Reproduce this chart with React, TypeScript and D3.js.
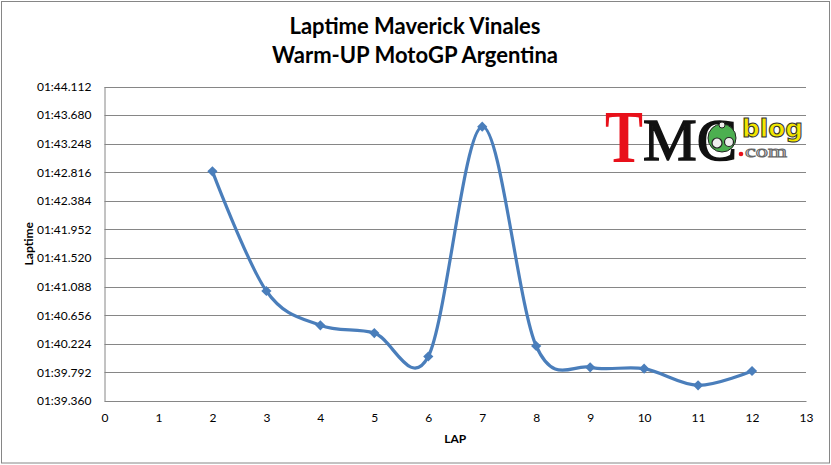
import { useEffect, useRef } from "react";
import * as d3 from "d3";

// lap number and lap time
const laps = [2, 3, 4, 5, 6, 7, 8, 9, 10, 11, 12];
const lapTimes = [
  "01:42.830",
  "01:41.022",
  "01:40.504",
  "01:40.387",
  "01:40.032",
  "01:43.505",
  "01:40.191",
  "01:39.869",
  "01:39.848",
  "01:39.597",
  "01:39.813",
];

const xTicks = [0, 1, 2, 3, 4, 5, 6, 7, 8, 9, 10, 11, 12, 13];
const yTickLabels = [
  "01:39.360",
  "01:39.792",
  "01:40.224",
  "01:40.656",
  "01:41.088",
  "01:41.520",
  "01:41.952",
  "01:42.384",
  "01:42.816",
  "01:43.248",
  "01:43.680",
  "01:44.112",
];

const toSeconds = (s: string) => {
  const [m, sec] = s.split(":");
  return +m * 60 + +sec;
};

const W = 831;
const H = 465;
const plot = { left: 104.5, right: 806, top: 86.5, bottom: 401 };
const blue = "#4a7ebb";
const grey = "#868686";
const font = "Lato, 'Open Sans', sans-serif";

export default function App() {
  const svgRef = useRef<SVGSVGElement>(null);

  useEffect(() => {
    document.body.style.margin = "0";
    const svg = d3.select(svgRef.current);
    svg.selectAll("*").remove();

    const yVals = yTickLabels.map(toSeconds);
    const x = d3.scaleLinear().domain([0, 13]).range([plot.left, plot.right]);
    const y = d3
      .scaleLinear()
      .domain([yVals[0], yVals[yVals.length - 1]])
      .range([plot.bottom, plot.top]);

    svg.append("rect").attr("width", W).attr("height", H).attr("fill", "white");
    svg
      .append("rect")
      .attr("x", 1.5)
      .attr("y", 1.5)
      .attr("width", W - 3)
      .attr("height", H - 3.5)
      .attr("fill", "none")
      .attr("stroke", grey);

    // gridlines
    svg
      .append("g")
      .selectAll("line")
      .data(yVals)
      .join("line")
      .attr("x1", plot.left)
      .attr("x2", plot.right)
      .attr("y1", (d) => Math.round(y(d)) + 0.5)
      .attr("y2", (d) => Math.round(y(d)) + 0.5)
      .attr("stroke", grey);

    // y axis
    const yAxis = svg
      .append("g")
      .attr("transform", `translate(${plot.left},0)`)
      .call(
        d3
          .axisLeft(y)
          .tickValues(yVals)
          .tickSize(0)
          .tickPadding(13)
          .tickFormat((_, i) => yTickLabels[i])
      );
    yAxis.select(".domain").attr("stroke", grey);
    yAxis
      .selectAll("text")
      .attr("font-family", font)
      .attr("font-size", 12)
      .attr("fill", "#000");

    // x axis
    const xAxis = svg
      .append("g")
      .attr("transform", `translate(0,${plot.bottom})`)
      .call(d3.axisBottom(x).tickValues(xTicks).tickSize(0).tickPadding(12));
    xAxis.select(".domain").attr("stroke", grey);
    xAxis
      .selectAll("text")
      .attr("font-family", font)
      .attr("font-size", 12)
      .attr("fill", "#000");

    // titles
    const title = svg
      .append("text")
      .attr("text-anchor", "middle")
      .attr("font-family", font)
      .attr("font-weight", "bold")
      .attr("font-size", 22);
    title.append("tspan").attr("x", 415).attr("y", 34).text("Laptime Maverick Vinales");
    title.append("tspan").attr("x", 415).attr("y", 63).text("Warm-UP MotoGP Argentina");

    svg
      .append("text")
      .attr("x", (plot.left + plot.right) / 2)
      .attr("y", 443)
      .attr("text-anchor", "middle")
      .attr("font-family", font)
      .attr("font-weight", "bold")
      .attr("font-size", 12)
      .text("LAP");

    svg
      .append("text")
      .attr("transform", `translate(33,${(plot.top + plot.bottom) / 2}) rotate(-90)`)
      .attr("text-anchor", "middle")
      .attr("font-family", font)
      .attr("font-weight", "bold")
      .attr("font-size", 12)
      .text("Laptime");

    // series
    const pts = laps.map((l, i) => [x(l), y(toSeconds(lapTimes[i]))] as [number, number]);
    const line = d3.line().curve(d3.curveCardinal.tension(0));
    svg
      .append("path")
      .attr("d", line(pts))
      .attr("fill", "none")
      .attr("stroke", blue)
      .attr("stroke-width", 3.2)
      .attr("stroke-linejoin", "round");

    svg
      .append("g")
      .selectAll("path")
      .data(pts)
      .join("path")
      .attr("d", d3.symbol(d3.symbolSquare, 52)())
      .attr("transform", (d) => `translate(${d[0]},${d[1]}) rotate(45)`)
      .attr("fill", blue);

    // TMC blog logo
    const logo = svg.append("g");
    logo
      .append("text")
      .attr("x", 605)
      .attr("y", 162)
      .attr("font-family", "'Liberation Serif', serif")
      .attr("font-weight", "bold")
      .attr("font-size", 74)
      .attr("textLength", 38)
      .attr("lengthAdjust", "spacingAndGlyphs")
      .attr("fill", "#e8101a")
      .text("T");
    logo
      .append("text")
      .attr("x", 643)
      .attr("y", 160)
      .attr("font-family", "'Liberation Serif', serif")
      .attr("font-size", 60)
      .attr("textLength", 94)
      .attr("lengthAdjust", "spacingAndGlyphs")
      .attr("fill", "#111")
      .attr("stroke", "#111")
      .attr("stroke-width", 1.5)
      .text("MC");
    logo
      .append("circle")
      .attr("cx", 722)
      .attr("cy", 138)
      .attr("r", 14)
      .attr("fill", "#4caf50")
      .attr("stroke", "#222")
      .attr("stroke-width", 1);
    logo
      .append("circle")
      .attr("cx", 717)
      .attr("cy", 143)
      .attr("r", 5)
      .attr("fill", "#eee")
      .attr("stroke", "#222")
      .attr("stroke-width", 1.2);
    logo
      .append("circle")
      .attr("cx", 729)
      .attr("cy", 142)
      .attr("r", 4.5)
      .attr("fill", "#eee")
      .attr("stroke", "#222")
      .attr("stroke-width", 1.2);
    logo
      .append("circle")
      .attr("cx", 722)
      .attr("cy", 125)
      .attr("r", 3)
      .attr("fill", "#eee")
      .attr("stroke", "#222")
      .attr("stroke-width", 1);
    logo
      .append("text")
      .attr("x", 742)
      .attr("y", 137)
      .attr("font-family", "'DejaVu Sans', sans-serif")
      .attr("font-weight", "bold")
      .attr("font-size", 24)
      .attr("textLength", 61)
      .attr("lengthAdjust", "spacingAndGlyphs")
      .attr("fill", "#f2e600")
      .attr("stroke", "#333")
      .attr("stroke-width", 1)
      .text("blog");
    logo
      .append("circle")
      .attr("cx", 741)
      .attr("cy", 154)
      .attr("r", 2.3)
      .attr("fill", "#e8101a");
    logo
      .append("text")
      .attr("x", 745)
      .attr("y", 157)
      .attr("font-family", "'Liberation Serif', serif")
      .attr("font-size", 17)
      .attr("textLength", 42)
      .attr("lengthAdjust", "spacingAndGlyphs")
      .attr("fill", "white")
      .attr("stroke", "#666")
      .attr("stroke-width", 0.9)
      .text("com");
  }, []);

  return <svg ref={svgRef} width={W} height={H} style={{ display: "block" }} />;
}
